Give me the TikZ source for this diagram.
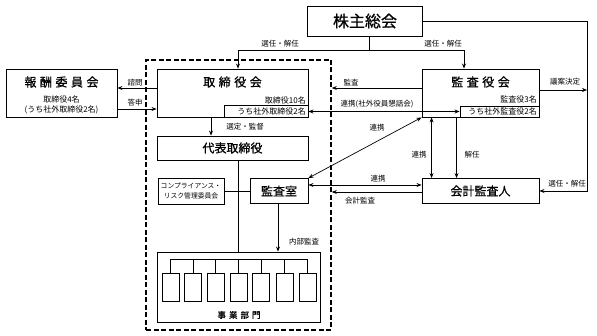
\documentclass[tikz,border=0pt]{standalone}
\usepackage{fontspec}
\setmainfont{Noto Sans CJK JP}
\newfontfamily\medfont[FakeBold=0.8]{Noto Sans CJK JP}
\usetikzlibrary{arrows.meta,calc}
\begin{document}
\begin{tikzpicture}[x=1pt,y=-1pt,
  box/.style={draw,line width=0.9pt,inner sep=0pt,fill=white},
  arr/.style={line width=0.7pt,-{Stealth[length=5pt,width=4pt]}},
  darr/.style={line width=0.7pt,{Stealth[length=5pt,width=4pt]}-{Stealth[length=5pt,width=4pt]}},
  ln/.style={line width=0.7pt},
  lbl/.style={font=\fontsize{7.5}{9}\selectfont,inner sep=0pt},
  sub/.style={font=\fontsize{8}{9}\selectfont,inner sep=0pt},
  ttl/.style={font=\fontsize{12}{14}\medfont,inner sep=0pt},
]
\useasboundingbox (0,0) rectangle (597,336);
% dashed frame
\node[draw,line width=1.6pt,dash pattern=on 5pt off 2.5pt,minimum width=185pt,minimum height=270pt,inner sep=0pt] (frame) at (238.5,195) {};
% boxes
\node[box,minimum width=115pt,minimum height=30pt,font=\fontsize{16}{18}\medfont] (kabu) at (365,21) {株主総会};
\node[box,minimum width=111pt,minimum height=48pt] (hoshu) at (61.5,93) {};
\node[ttl] (hoshut) at (61.5,82) {報\kern3.5pt 酬\kern3.5pt 委\kern3.5pt 員\kern3.5pt 会};
\node[sub] (hoshus1) at (61.5,99) {取締役4名};
\node[sub] (hoshus2) at (61.5,110) {(うち社外取締役2名)};
\node[box,minimum width=151pt,minimum height=48pt] (tori) at (232.5,93) {};
\node[ttl] (torit) at (232.5,82) {取\kern3.5pt 締\kern3.5pt 役\kern3.5pt 会};
\node[sub,anchor=east] (toris1) at (306,100) {取締役10名};
\node[box,minimum width=84pt,minimum height=12pt] (toriin) at (266,111.5) {};
\node[sub,anchor=east] (toris2) at (306,111.5) {うち社外取締役2名};
\node[box,minimum width=117pt,minimum height=48pt] (kansayaku) at (480.5,93) {};
\node[ttl] (kansayakut) at (480.5,82) {監\kern3.5pt 査\kern3.5pt 役\kern3.5pt 会};
\node[sub,anchor=east] (kansas1) at (537,99.5) {監査役3名};
\node[box,minimum width=79pt,minimum height=11pt] (kansain) at (499.5,111.5) {};
\node[sub,anchor=east] (kansas2) at (537,111.5) {うち社外監査役2名};
\node[box,minimum width=151pt,minimum height=24pt,ttl] (daihyo) at (232.5,148) {代表取締役};
\node[box,minimum width=66pt,minimum height=26pt,align=center,font=\fontsize{6.8}{10}\selectfont] (comp) at (191,191) {コンプライアンス・\\リスク管理委員会};
\node[box,minimum width=58pt,minimum height=25pt,ttl] (kansashitsu) at (279,191) {監査室};
\node[box,minimum width=117pt,minimum height=25pt,ttl] (kaikei) at (480.5,191) {会計監査人};
\node[box,minimum width=163pt,minimum height=70pt] (jigyo) at (238.5,287) {};
\foreach \i/\xx in {1/170.5,2/193,3/215.5,4/238.5,5/261,6/284.5,7/307.5}{
  \node[box,minimum width=17pt,minimum height=28pt] (d\i) at (\xx,287) {};
}
\coordinate (bus) at (0,259);
\draw[ln] (d1.north |- bus) -- (d7.north |- bus);
\foreach \i in {1,...,7}{ \draw[ln] (d\i.north) -- (d\i.north |- bus); }
\node[font=\fontsize{8.5}{10}\medfont,inner sep=0pt] (jigyot) at (239,315) {事\kern3pt 業\kern3pt 部\kern3pt 門};
% connectors from shareholders
\coordinate (j0) at (369,50);
\coordinate (jl) at (238,50);
\coordinate (jr) at (464,50);
\draw[ln] (kabu.south -| j0) -- (j0);
\draw[arr] (j0) -- (jl) -- (jl |- tori.north);
\draw[arr] (j0) -- (jr) -- (jr |- kansayaku.north);
\coordinate (rb) at (587,191);
\draw[arr] (kabu.east) -| (rb) -- (kaikei.east);
\coordinate (k1) at ($(kansayaku.east)+(0,-3)$);
\draw[arr] (k1) -- (k1 -| rb);
% board
\coordinate (t1) at ($(tori.west)+(0,-5)$);
\draw[arr] (t1) -- (t1 -| hoshu.east);
\coordinate (h1) at ($(hoshu.east)+(0,16)$);
\draw[arr] (h1) -- (h1 -| tori.west);
\coordinate (t2) at ($(tori.south)+(-21.5,0)$);
\draw[arr] (t2) -- (t2 |- daihyo.north);
\coordinate (v) at ($(daihyo.south)+(5.5,0)$);
\draw[ln] (v) -- (v |- jigyo.north);
\draw[ln] (comp.east) -- (kansashitsu.west);
\coordinate (s1) at ($(kansashitsu.south)+(-1,0)$);
\draw[arr] (s1) -- (s1 |- jigyo.north);
% auditors
\coordinate (k2) at ($(kansayaku.west)+(0,-5)$);
\draw[arr] (k2) -- (k2 -| frame.east);
\draw[darr] (toriin.east) -- (kansain.west);
\draw[darr] (kansayaku.south west) -- (kansashitsu.north east);
\coordinate (k3) at ($(kansayaku.south west)+(10,0)$);
\draw[darr] (k3) -- (k3 |- kaikei.north);
\coordinate (k4) at ($(kansayaku.south west)+(35,0)$);
\draw[arr] (k4) -- (k4 |- kaikei.north);
\coordinate (s2) at ($(kansashitsu.east)+(0,-6)$);
\draw[darr] (s2) -- (s2 -| kaikei.west);
\coordinate (a1) at ($(kaikei.west)+(0,1)$);
\draw[arr] (a1) -- (a1 -| frame.east);
% labels
\node[lbl] (l1) at (280,44) {選任・解任};
\node[lbl] (l2) at (443,44) {選任・解任};
\node[lbl] (l3) at (135,83) {諮問};
\node[lbl] (l4) at (135,103) {答申};
\node[lbl] (l5) at (245,127) {選定・監督};
\node[lbl] (l6) at (351,83) {監査};
\node[lbl] (l7) at (377,104) {連携(社外役員懇話会)};
\node[lbl] (l8) at (565,82) {議案決定};
\node[lbl] (l9) at (377,128) {連携};
\node[lbl] (l10) at (419,155) {連携};
\node[lbl] (l11) at (472,155) {解任};
\node[lbl] (l12) at (378,179) {連携};
\node[lbl] (l13) at (360,201) {会計監査};
\node[lbl] (l14) at (567,184) {選任・解任};
\node[lbl] (l15) at (304,242) {内部監査};
\end{tikzpicture}
\end{document}
